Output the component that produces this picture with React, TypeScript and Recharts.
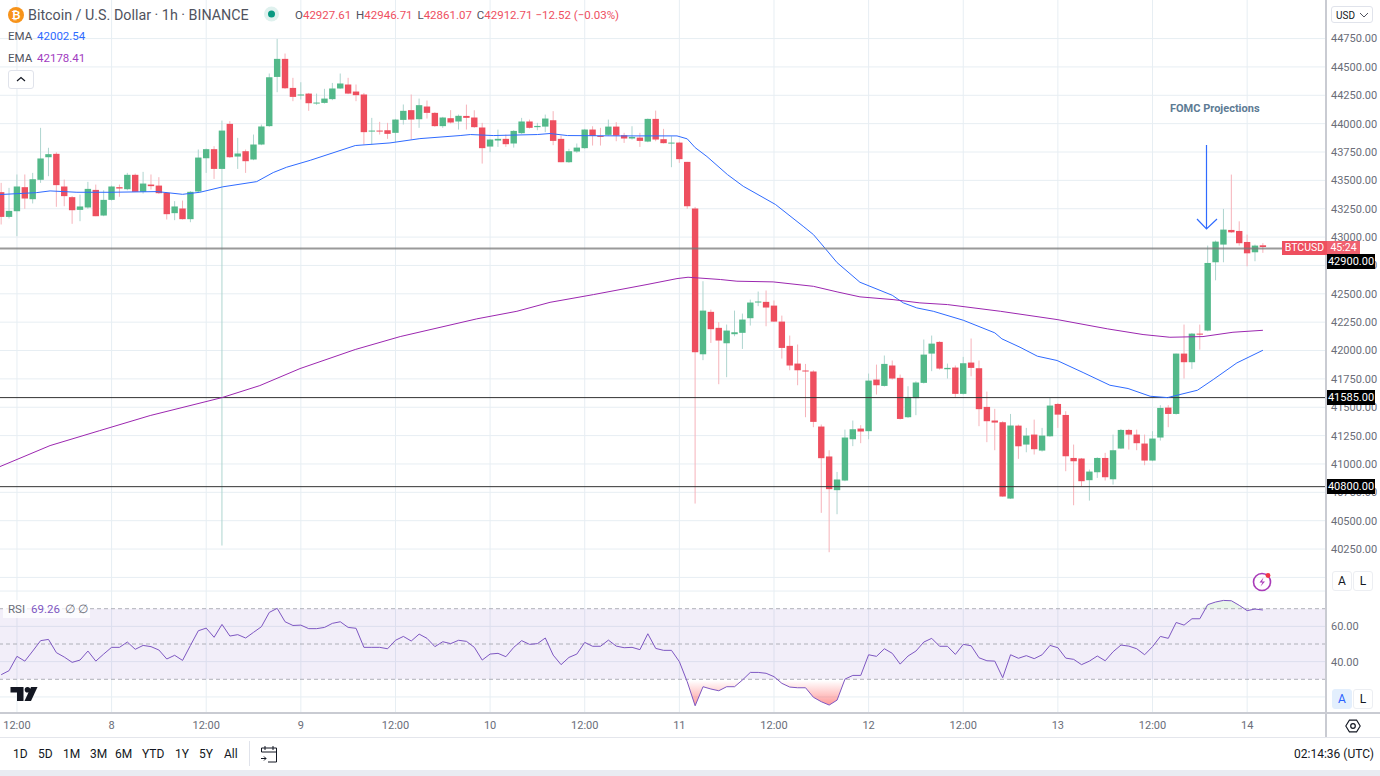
import { Bar, CartesianGrid, ComposedChart, Line, Area, ReferenceArea, ReferenceLine, XAxis, YAxis } from "recharts";

// one entry per hourly candle, index 0 is the first bar at the left edge
const opens = [
  43396, 43178, 43228, 43440, 43334, 43505, 43704, 43734, 43446, 43352,
  43240, 43261, 43416, 43190, 43328, 43440, 43422, 43549, 43399, 43463,
  43454, 43390, 43211, 43252, 43158, 43402, 43695, 43775, 43601, 43998,
  43710, 43757, 43684, 43816, 43978, 44412, 44571, 44315, 44251, 44265,
  44177, 44183, 44216, 44310, 44345, 44283, 44257, 43933, 43939, 43942,
  43919, 44033, 44119, 44039, 44151, 44095, 43978, 44048, 44019, 44068,
  44054, 43966, 43798, 43851, 43866, 43825, 43916, 44019, 43969, 43974,
  44030, 43866, 43660, 43754, 43784, 43948, 43892, 43901, 43974, 43898,
  43869, 43877, 43842, 44042, 43863, 43830, 43833, 43663, 43252, 41967,
  42341, 42200, 42064, 42144, 42156, 42285, 42426, 42429, 42396, 42255,
  42041, 41885, 41824, 41815, 41330, 41066, 40769, 40854, 41218, 41312,
  41289, 41744, 41688, 41868, 41759, 41412, 41580, 41715, 41973, 42076,
  41835, 41850, 41618, 41894, 41844, 41503, 41383, 41368, 40695, 41338,
  41171, 41259, 41118, 41244, 41529, 41432, 41053, 41048, 40857, 40927,
  41053, 40865, 41136, 41300, 41259, 41180, 41030, 41233, 41497, 41441,
  41973, 41897, 42149, 42176, 42778, 42934, 43063, 43054, 42957, 42866,
  42927.61,
];
const closes = [
  43178, 43231, 43446, 43340, 43510, 43693, 43731, 43458, 43361, 43237,
  43270, 43425, 43184, 43328, 43446, 43428, 43549, 43399, 43472, 43449,
  43387, 43202, 43270, 43158, 43399, 43701, 43775, 43601, 43939, 43704,
  43737, 43669, 43816, 43975, 44409, 44571, 44312, 44236, 44257, 44180,
  44186, 44221, 44310, 44354, 44265, 44251, 43925, 43939, 43933, 43910,
  44036, 44113, 44036, 44163, 44095, 43978, 44054, 44010, 44069, 44051,
  43969, 43784, 43860, 43866, 43819, 43936, 44019, 43963, 43980, 44045,
  43848, 43660, 43757, 43789, 43948, 43892, 43889, 43974, 43895, 43869,
  43883, 43848, 44042, 43860, 43828, 43833, 43687, 43272, 41985, 42352,
  42188, 42088, 42176, 42161, 42273, 42423, 42432, 42379, 42255, 42023,
  41868, 41826, 41818, 41371, 41051, 40778, 40863, 41233, 41306, 41286,
  41735, 41694, 41882, 41753, 41397, 41591, 41718, 41964, 42061, 41841,
  41847, 41618, 41888, 41847, 41483, 41377, 41365, 40713, 41339, 41156,
  41250, 41130, 41250, 41515, 41435, 41068, 41024, 40848, 40933, 41053,
  40883, 41121, 41300, 41259, 41183, 41030, 41224, 41494, 41441, 41973,
  41897, 42149, 42143, 42772, 42960, 43066, 43042, 42946, 42857, 42925,
  42912.71,
];
const highs = [
  43478, 43434, 43552, 43552, 43566, 43963, 43787, 43748, 43507, 43361,
  43375, 43487, 43463, 43413, 43454, 43463, 43566, 43560, 43575, 43552,
  43528, 43396, 43317, 43322, 43405, 43772, 43781, 43801, 44027, 44022,
  43875, 43772, 43904, 43992, 44442, 44747, 44618, 44404, 44365, 44271,
  44265, 44307, 44359, 44442, 44404, 44345, 44271, 44051, 44016, 44007,
  44042, 44169, 44257, 44221, 44204, 44101, 44060, 44119, 44080, 44168,
  44118, 44007, 43866, 43948, 43904, 43942, 44051, 44036, 44007, 44080,
  44110, 43895, 43778, 43825, 43954, 43977, 43963, 44036, 44013, 43919,
  43977, 43919, 44045, 44115, 43954, 43889, 43839, 43663, 43266, 42611,
  42361, 42250, 42229, 42352, 42326, 42449, 42520, 42529, 42441, 42308,
  42132, 42053, 41882, 41826, 41348, 41121, 40930, 41303, 41383, 41342,
  41797, 41876, 41956, 41912, 41788, 41685, 41729, 42097, 42132, 42082,
  41885, 41868, 41944, 42106, 41912, 41638, 41486, 41377, 41441, 41347,
  41318, 41391, 41318, 41582, 41538, 41465, 41171, 41053, 40951, 41059,
  41098, 41259, 41309, 41309, 41303, 41259, 41289, 41518, 41518, 41973,
  42229, 42155, 42229, 42925, 42969, 43248, 43551, 43139, 43022, 42934,
  42946.71,
];
const lows = [
  43111, 43164, 43008, 43249, 43296, 43478, 43537, 43267, 43272, 43117,
  43140, 43249, 43184, 43184, 43322, 43355, 43413, 43399, 43384, 43419,
  43381, 43155, 43149, 43155, 43131, 43396, 43566, 43513, 40281, 43698,
  43601, 43566, 43678, 43810, 43972, 44277, 44307, 44198, 44213, 44113,
  44166, 44177, 44207, 44307, 44260, 44198, 43816, 43816, 43904, 43866,
  43837, 43992, 43860, 43963, 44045, 43972, 43963, 44001, 43948, 43948,
  43963, 43648, 43748, 43795, 43795, 43789, 43910, 43957, 43942, 43925,
  43810, 43660, 43654, 43742, 43778, 43807, 43807, 43895, 43845, 43830,
  43860, 43795, 43836, 43845, 43825, 43616, 43654, 43249, 40651, 41915,
  42067, 41703, 41765, 42126, 42014, 42220, 42391, 42214, 42252, 41929,
  41826, 41694, 41412, 41324, 40569, 40222, 40557, 40848, 41157, 41183,
  41218, 41612, 41682, 41744, 41392, 41406, 41430, 41709, 41818, 41832,
  41753, 41591, 41612, 41773, 41333, 41192, 41121, 40710, 40692, 41045,
  41103, 41083, 41109, 41239, 41318, 40936, 40636, 40804, 40677, 40877,
  40854, 40818, 41133, 41127, 41121, 40989, 41024, 41206, 41324, 41435,
  41753, 41838, 42008, 42170, 42619, 42778, 43037, 42925, 42743, 42787,
  42861.07,
];
const rsiValues = [
  32.6, 34.9, 43.0, 40.3, 46.0, 51.9, 52.6, 45.1, 42.6, 39.6,
  40.9, 46.0, 40.3, 44.3, 48.1, 48.1, 51.1, 47.0, 49.2, 48.5,
  46.6, 41.5, 43.6, 40.7, 49.2, 57.5, 59.0, 53.8, 61.1, 54.5,
  55.3, 53.4, 56.6, 59.8, 67.9, 70.2, 62.6, 60.5, 60.7, 58.7,
  58.7, 59.4, 61.7, 62.6, 59.4, 58.9, 48.1, 48.1, 48.1, 47.3,
  52.1, 54.3, 51.7, 55.6, 53.2, 48.5, 51.3, 50.2, 52.1, 51.5,
  48.1, 40.9, 44.3, 44.7, 42.8, 48.1, 51.9, 49.8, 50.2, 53.4,
  43.7, 38.3, 42.4, 44.3, 50.9, 48.7, 48.7, 52.2, 48.8, 47.9,
  48.1, 46.8, 55.8, 47.5, 46.4, 46.4, 40.0, 28.6, 15.0, 25.8,
  24.5, 23.5, 25.8, 25.8, 29.6, 33.9, 33.9, 33.4, 31.5, 27.7,
  25.6, 25.2, 25.2, 19.8, 17.3, 15.4, 18.2, 30.1, 32.2, 32.2,
  43.9, 43.0, 47.3, 44.7, 38.6, 43.2, 46.0, 51.1, 53.2, 48.7,
  48.7, 44.1, 49.8, 49.0, 42.2, 40.5, 40.3, 30.9, 43.9, 41.9,
  43.4, 41.7, 43.9, 49.2, 47.9, 42.0, 41.3, 38.3, 40.3, 43.2,
  40.5, 45.6, 49.4, 48.8, 47.3, 43.9, 48.5, 54.3, 53.2, 62.2,
  60.7, 64.3, 64.3, 72.3, 73.8, 74.7, 74.5, 71.9, 68.9, 69.8,
  69.26,
];

// EMA lines, read as [bar position, price] at the bends
const emaBlue = [
  [-0.15, 43375], [4.5, 43392], [6.2, 43407], [9.6, 43395], [13.8, 43395], [19.8, 43401], [23, 43377], [25.2, 43395],
  [28.1, 43443], [32.4, 43489], [34.5, 43569], [36.2, 43616], [39.2, 43677], [44.9, 43807], [49.3, 43830], [53.1, 43868],
  [58.2, 43895], [59.5, 43904], [62.4, 43895], [68, 43904], [69.6, 43913], [71.8, 43895], [78.5, 43892], [85.7, 43892],
  [87, 43866], [88, 43789], [89.5, 43710], [92.1, 43551], [94.1, 43448], [98.2, 43287], [101.7, 43095], [103, 43022],
  [104.5, 42899], [106, 42775], [108.9, 42602], [113, 42487], [114.4, 42420], [116.1, 42376], [118.2, 42346], [122, 42267],
  [126, 42156], [126.9, 42103], [129.2, 42029], [131.4, 41950], [133.9, 41912], [137.2, 41806], [140.6, 41694], [142.9, 41665],
  [145.7, 41597], [147.9, 41585], [151.7, 41650], [153.7, 41744], [156.7, 41891], [160, 42002.54],
];
const emaPurple = [
  [-0.15, 40977], [6.2, 41162], [12.5, 41294], [18.9, 41427], [28, 41585], [32.8, 41691], [37.9, 41841], [44.9, 42009],
  [50.6, 42123], [60.3, 42279], [65.4, 42346], [69.6, 42425], [75.1, 42493], [81.9, 42582], [85.7, 42634], [87.1, 42646],
  [91.2, 42626], [93.3, 42611], [97.9, 42605], [103, 42566], [106, 42517], [108.9, 42473], [113.1, 42449], [116.5, 42420],
  [120, 42405], [126.7, 42346], [133.9, 42273], [140.3, 42191], [144.8, 42141], [148.2, 42117], [152.4, 42123], [156.2, 42161],
  [160, 42178.41],
];

const priceTicks = [
  44750, 44500, 44250, 44000, 43750, 43500, 43250, 43000, 42750, 42500,
  42250, 42000, 41750, 41500, 41250, 41000, 40750, 40500, 40250,
];
const priceGrid = [...priceTicks, 40000];
const timeTicks = [2, 14, 26, 38, 50, 62, 74, 86, 98, 110, 122, 134, 146, 158];
const timeLabels = ["12:00", "8", "12:00", "9", "12:00", "10", "12:00", "11", "12:00", "12", "12:00", "13", "12:00", "14"];
const rangeButtons: [string, number][] = [["1D", 13], ["5D", 38], ["1M", 63], ["3M", 90], ["6M", 115], ["YTD", 142], ["1Y", 175], ["5Y", 199], ["All", 224]];

const candles = opens.map((open, i) => ({
  t: i,
  open,
  close: closes[i],
  high: highs[i],
  low: lows[i],
  range: [lows[i], highs[i]],
}));
const rsiRows = rsiValues.map((rsi, i) => ({
  t: i,
  rsi,
  oversold: [Math.min(rsi, 30), 30],
  overbought: [70, Math.max(rsi, 70)],
}));
const toLine = (rows: number[][]) => rows.map(([t, v]) => ({ t, v }));

const UP = "#53b98a";
const DOWN = "#ee4f5f";
const UP_WICK = "#aed5cf";
const DOWN_WICK = "#f6b3ba";
const GRID = "#e7eef3";
const FONT = "Roboto, sans-serif";
const X_DOMAIN: [number, number] = [-0.15, 168];
const BODY_WIDTH = 6.4;

const Candle = (props: any) => {
  const { x, y, width, height, payload } = props;
  const perUnit = height / (payload.high - payload.low);
  const up = payload.close >= payload.open;
  const top = y + (payload.high - Math.max(payload.open, payload.close)) * perUnit;
  const bodyHeight = Math.max(Math.abs(payload.open - payload.close) * perUnit, 1);
  const mid = x + width / 2;
  return (
    <g>
      <line x1={mid} x2={mid} y1={y} y2={y + height} stroke={up ? UP_WICK : DOWN_WICK} strokeWidth={1} />
      <rect x={mid - BODY_WIDTH / 2} y={top} width={BODY_WIDTH} height={bodyHeight} fill={up ? UP : DOWN} />
    </g>
  );
};

const Label = ({ x, y, w, h, bg, color, children, size = 11 }: any) => (
  <div
    style={{
      position: "absolute", left: x, top: y, width: w, height: h, lineHeight: `${h}px`, background: bg, color,
      fontSize: size, textAlign: "center", whiteSpace: "nowrap",
    }}
  >
    {children}
  </div>
);

const Text = ({ x, y, color = "#50535e", size = 12, children, weight = 400 }: any) => (
  <span style={{ position: "absolute", left: x, top: y, color, fontSize: size, fontWeight: weight, whiteSpace: "nowrap", lineHeight: "16px" }}>
    {children}
  </span>
);

const SmallButton = ({ x, y, text, color = "#131722", bg = "#fff", border = "#eceef2" }: any) => (
  <div
    style={{
      position: "absolute", left: x, top: y, width: 18, height: 18, border: `1px solid ${border}`, borderRadius: 3, background: bg,
      color, fontSize: 12, lineHeight: "18px", textAlign: "center",
    }}
  >
    {text}
  </div>
);

export default function App() {
  return (
    <div style={{ position: "absolute", left: 0, top: 0, width: 1380, height: 776, background: "#fff", fontFamily: FONT, overflow: "hidden" }}>
      {/* price pane */}
      <div style={{ position: "absolute", left: 0, top: 0 }}>
        <ComposedChart width={1380} height={590} data={candles} margin={{ top: 0, right: 0, bottom: 0, left: 0 }}>
          <CartesianGrid stroke={GRID} horizontalValues={priceGrid} verticalValues={timeTicks} />
          <XAxis dataKey="t" type="number" domain={X_DOMAIN} ticks={timeTicks} hide allowDataOverflow />
          <YAxis
            orientation="right"
            width={54}
            domain={[39889, 45090]}
            ticks={priceTicks}
            interval={0}
            axisLine={false}
            tickLine={false}
            tick={{ fontSize: 11, fill: "#6a6d78", fontFamily: FONT, dx: -3 }}
            tickFormatter={(v: number) => v.toFixed(2)}
            allowDataOverflow
          />
          <ReferenceLine y={41585} stroke="#333" strokeWidth={1} />
          <ReferenceLine y={40800} stroke="#333" strokeWidth={1} />
          <Line data={toLine(emaBlue)} dataKey="v" type="linear" stroke="#2f6bff" strokeWidth={1} dot={false} isAnimationActive={false} />
          <Line data={toLine(emaPurple)} dataKey="v" type="linear" stroke="#9c27b0" strokeWidth={1} dot={false} isAnimationActive={false} />
          <Bar dataKey="range" barSize={6} shape={Candle} isAnimationActive={false} />
          <ReferenceLine y={42900} stroke="#787878" strokeWidth={2} strokeOpacity={0.75} />
        </ComposedChart>
      </div>

      {/* RSI pane with the time axis under it */}
      <div style={{ position: "absolute", left: 0, top: 590 }}>
        <ComposedChart width={1380} height={148} data={rsiRows} margin={{ top: 0, right: 0, bottom: 0, left: 0 }}>
          <defs>
            <linearGradient id="rsiLow" x1="0" y1="0" x2="0" y2="1">
              <stop offset="5%" stopColor="#ff5252" stopOpacity={0} />
              <stop offset="100%" stopColor="#ff5252" stopOpacity={0.6} />
            </linearGradient>
          </defs>
          <CartesianGrid stroke={GRID} horizontalValues={[80, 60, 40, 20]} verticalValues={timeTicks} />
          <ReferenceArea y1={30} y2={70} fill="#7e57c2" fillOpacity={0.1} stroke="none" />
          <ReferenceLine y={70} stroke="#aeb0b8" strokeDasharray="4 3" />
          <ReferenceLine y={50} stroke="#aeb0b8" strokeDasharray="4 3" />
          <ReferenceLine y={30} stroke="#aeb0b8" strokeDasharray="4 3" />
          <XAxis
            dataKey="t"
            type="number"
            domain={X_DOMAIN}
            ticks={timeTicks}
            interval={0}
            height={25}
            axisLine={false}
            tickLine={false}
            tick={{ fontSize: 11, fill: "#6a6d78", fontFamily: FONT }}
            tickFormatter={(v: number) => timeLabels[timeTicks.indexOf(v)]}
            allowDataOverflow
          />
          <YAxis
            orientation="right"
            width={54}
            domain={[10.9, 80.6]}
            ticks={[60, 40]}
            interval={0}
            axisLine={false}
            tickLine={false}
            tick={{ fontSize: 11, fill: "#6a6d78", fontFamily: FONT, dx: -3 }}
            tickFormatter={(v: number) => v.toFixed(2)}
            allowDataOverflow
          />
          <Area dataKey="oversold" type="linear" stroke="none" fill="url(#rsiLow)" fillOpacity={1} isAnimationActive={false} />
          <Area dataKey="overbought" type="linear" stroke="none" fill="#4caf50" fillOpacity={0.12} isAnimationActive={false} />
          <Line dataKey="rsi" type="linear" stroke="#7e57c2" strokeWidth={1} dot={false} isAnimationActive={false} />
        </ComposedChart>
      </div>

      {/* axis frame */}
      <div style={{ position: "absolute", left: 1325, top: 0, width: 2, height: 738, background: "#c9cbd2" }} />
      <div style={{ position: "absolute", left: 0, top: 712, width: 1380, height: 2, background: "#c9cbd2" }} />
      <div style={{ position: "absolute", left: 0, top: 737, width: 1380, height: 1, background: "#e4e6ec" }} />
      <div style={{ position: "absolute", left: 0, top: 770, width: 1380, height: 6, background: "#e9ecf2" }} />

      {/* legend */}
      <svg width={24} height={24} style={{ position: "absolute", left: 4, top: 3 }}>
        <circle cx={12} cy={12} r={8} fill="#f7931a" />
        <text x={12} y={16} textAnchor="middle" fontSize={11} fontWeight={700} fill="#fff" fontFamily={FONT}>₿</text>
      </svg>
      <Text x={28} y={7} size={14.3} color="#50535e">Bitcoin / U.S. Dollar · 1h · BINANCE</Text>
      <svg width={18} height={18} style={{ position: "absolute", left: 263, top: 6 }}>
        <circle cx={8.5} cy={8} r={7.5} fill="#dff1ee" />
        <circle cx={8.5} cy={8} r={3.5} fill="#089981" />
      </svg>
      <div style={{ position: "absolute", left: 295, top: 7, fontSize: 11.5, lineHeight: "16px", whiteSpace: "nowrap", color: "#ee4f5f" }}>
        <span style={{ color: "#50535e" }}>O</span>42927.61 <span style={{ color: "#50535e", marginLeft: 2 }}>H</span>42946.71{" "}
        <span style={{ color: "#50535e", marginLeft: 2 }}>L</span>42861.07 <span style={{ color: "#50535e", marginLeft: 2 }}>C</span>42912.71 −12.52 (−0.03%)
      </div>
      <Text x={8} y={28} size={11.5}>EMA</Text>
      <Text x={37} y={28} size={11.5} color="#2f6bff">42002.54</Text>
      <Text x={8} y={50} size={11.5}>EMA</Text>
      <Text x={37} y={50} size={11.5} color="#a13cbf">42178.41</Text>
      <div style={{ position: "absolute", left: 8, top: 70, width: 24, height: 17, border: "1px solid #e0e3eb", borderRadius: 3, background: "#fff" }}>
        <svg width={24} height={17}><path d="M8 10 L12 6.5 L16 10" fill="none" stroke="#131722" strokeWidth={1.2} /></svg>
      </div>

      {/* RSI legend */}
      <div style={{ position: "absolute", left: 3, top: 600, width: 87, height: 18, background: "rgba(255,255,255,0.75)" }} />
      <Text x={8} y={601} size={11.5} color="#6a6d78">RSI</Text>
      <Text x={31} y={601} size={11.5} color="#7e57c2">69.26</Text>
      <Text x={65} y={601} size={11.5} color="#6a6d78">∅ ∅</Text>

      {/* annotation */}
      <Text x={1170} y={101} size={11} color="#5d7b94" weight={700}>FOMC Projections</Text>
      <svg width={40} height={100} style={{ position: "absolute", left: 1190, top: 140 }}>
        <path d="M16.5 5 V89 M7 79 L16.5 89 L27 79" fill="none" stroke="#2f6bff" strokeWidth={1.2} />
      </svg>

      {/* price tags */}
      <Label x={1282} y={241} w={45} h={14} bg="#ee4f5f" color="#fff" size={10.5}>BTCUSD</Label>
      <Label x={1327} y={241} w={33} h={14} bg="#f0616f" color="#fff" size={10.5}>45:24</Label>
      <Label x={1327} y={254} w={48} h={15} bg="#000" color="#fff">42900.00</Label>
      <Label x={1327} y={390} w={48} h={15} bg="#000" color="#fff">41585.00</Label>
      <Label x={1327} y={479} w={48} h={15} bg="#000" color="#fff">40800.00</Label>

      {/* right hand controls */}
      <div style={{ position: "absolute", left: 1331, top: 6, width: 42, height: 17, border: "1px solid #e0e3eb", borderRadius: 3, background: "#fff", fontSize: 10, lineHeight: "17px", color: "#131722", paddingLeft: 4, boxSizing: "border-box" }}>
        USD
      </div>
      <svg width={10} height={8} style={{ position: "absolute", left: 1359, top: 11 }}>
        <path d="M1 2 L5 6 L9 2" fill="none" stroke="#50535e" strokeWidth={1} />
      </svg>
      <SmallButton x={1332} y={571} text="A" />
      <SmallButton x={1353} y={571} text="L" />
      <SmallButton x={1332} y={689} text="A" color="#2962ff" bg="#e3effd" border="#e3effd" />
      <SmallButton x={1353} y={689} text="L" />
      <svg width={20} height={20} style={{ position: "absolute", left: 1343, top: 716 }}>
        <path d="M6 3.5 H14 L18 10 L14 16.5 H6 L2 10 Z" transform="translate(1 1) scale(0.9)" fill="none" stroke="#131722" strokeWidth={1.2} />
        <circle cx={10} cy={10} r={2.3} fill="none" stroke="#131722" strokeWidth={1.2} />
      </svg>
      <svg width={24} height={24} style={{ position: "absolute", left: 1250, top: 570 }}>
        <circle cx={12} cy={12} r={8.5} fill="none" stroke="#a93bb8" strokeWidth={1.6} />
        <path d="M13.5 7.5 L9.5 12.5 H12.5 L10.5 16.5 L15 11.5 H12 Z" fill="#a93bb8" />
        <circle cx={18} cy={5.5} r={2.4} fill="#f23645" />
      </svg>

      {/* TradingView mark */}
      <svg width={30} height={16} style={{ position: "absolute", left: 9, top: 686 }}>
        <path d="M1.5 1 H14.5 V15 H8 V6.5 H1.5 Z" fill="#131722" />
        <circle cx={18.5} cy={3.8} r={2.8} fill="#131722" />
        <path d="M22 1 H28.5 L22 15 H15.5 Z" fill="#131722" />
      </svg>

      {/* bottom toolbar */}
      {rangeButtons.map(([label, x]) => (
        <Text key={label} x={x} y={746} size={12} color="#131722">{label}</Text>
      ))}
      <div style={{ position: "absolute", left: 249, top: 741, width: 1, height: 25, background: "#e0e3eb" }} />
      <svg width={20} height={20} style={{ position: "absolute", left: 259, top: 744 }}>
        <path d="M2.5 8 V4 H17.5 V18 H9 M2.5 8 H17.5 M6 2 V6 M14 2 V6 M2 14.5 H7 M5 12.5 L7 14.5 L5 16.5" fill="none" stroke="#131722" strokeWidth={1} />
      </svg>
      <span style={{ position: "absolute", right: 6, top: 746, fontSize: 12, lineHeight: "16px", color: "#131722" }}>02:14:36 (UTC)</span>
    </div>
  );
}
